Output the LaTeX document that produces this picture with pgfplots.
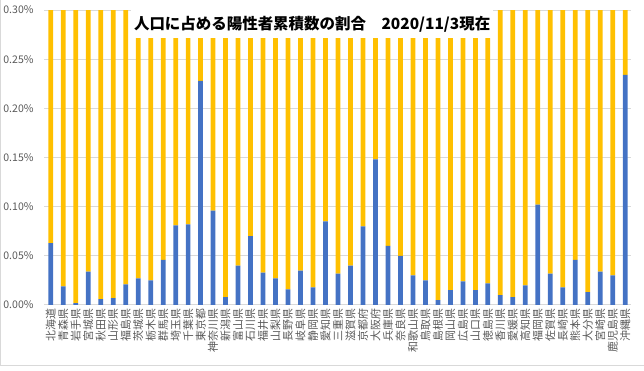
\documentclass[border=0pt]{standalone}
\usepackage{fontspec}
\setmainfont{Noto Sans CJK JP}
\usepackage{pgfplots}
\usepackage{pgfplotstable}
\pgfplotsset{compat=1.18}
\definecolor{cblue}{HTML}{4472C4}
\definecolor{cgold}{HTML}{FFC000}
\definecolor{cgrid}{HTML}{D9D9D9}
\definecolor{ctext}{HTML}{595959}
\pgfplotstableread{
x b o
0 0.063 0.237
1 0.019 0.281
2 0.002 0.298
3 0.034 0.266
4 0.006 0.294
5 0.007 0.293
6 0.021 0.279
7 0.027 0.273
8 0.025 0.275
9 0.046 0.254
10 0.081 0.219
11 0.082 0.218
12 0.228 0.072
13 0.096 0.204
14 0.008 0.292
15 0.040 0.260
16 0.070 0.230
17 0.033 0.267
18 0.027 0.273
19 0.016 0.284
20 0.035 0.265
21 0.018 0.282
22 0.085 0.215
23 0.032 0.268
24 0.040 0.260
25 0.080 0.220
26 0.148 0.152
27 0.060 0.240
28 0.050 0.250
29 0.030 0.270
30 0.025 0.275
31 0.005 0.295
32 0.015 0.285
33 0.024 0.276
34 0.015 0.285
35 0.022 0.278
36 0.010 0.290
37 0.008 0.292
38 0.020 0.280
39 0.102 0.198
40 0.032 0.268
41 0.018 0.282
42 0.046 0.254
43 0.013 0.287
44 0.034 0.266
45 0.030 0.270
46 0.234 0.066
}\data
\begin{document}
\begin{tikzpicture}
\path[use as bounding box] (-33.375pt,-49.5pt) rectangle (449.625pt,228.75pt);
\draw[cgrid, line width=0.75pt] (-33.0pt,228.75pt) -- (-33.0pt,-45.75pt) -- (449.625pt,-45.75pt);
\begin{axis}[
  at={(0pt,0pt)}, anchor=south west,
  scale only axis,
  width=440.25pt, height=221.25pt,
  ybar stacked, bar width=0.38,
  xmin=-0.5, xmax=46.5,
  ymin=0, ymax=0.30,
  ytick={0,0.05,0.10,0.15,0.20,0.25,0.30},
  yticklabels={0.00\%,0.05\%,0.10\%,0.15\%,0.20\%,0.25\%,0.30\%},
  xtick={0,...,46},
  xticklabels={北海道,青森県,岩手県,宮城県,秋田県,山形県,福島県,茨城県,栃木県,群馬県,埼玉県,千葉県,東京都,神奈川県,新潟県,富山県,石川県,福井県,山梨県,長野県,岐阜県,静岡県,愛知県,三重県,滋賀県,京都府,大阪府,兵庫県,奈良県,和歌山県,鳥取県,島根県,岡山県,広島県,山口県,徳島県,香川県,愛媛県,高知県,福岡県,佐賀県,長崎県,熊本県,大分県,宮崎県,鹿児島県,沖縄県},
  xticklabel style={rotate=90, anchor=east, inner sep=0pt, font=\fontsize{8.2}{9}\selectfont, text=ctext},
  xticklabel shift=2.5pt,
  yticklabel style={font=\fontsize{7.9}{9}\selectfont, text=ctext, inner sep=0pt},
  yticklabel shift=8pt,
  major tick length=0pt,
  ymajorgrids, grid style={cgrid, line width=0.75pt},
  axis line style={draw=none},
  clip=false,
]
\addplot[fill=cblue, draw=none] table[x=x, y=b] {\data};
\addplot[fill=cgold, draw=none] table[x=x, y=o] {\data};
\coordinate (tt) at (rel axis cs:0.456,0.952);
\end{axis}
\node[fill=white, inner xsep=2pt, minimum height=21pt, font=\fontsize{11.6}{13}\selectfont\bfseries, text=black]
  at (tt) {人口に占める陽性者累積数の割合　2020/11/3現在};
\end{tikzpicture}
\end{document}
